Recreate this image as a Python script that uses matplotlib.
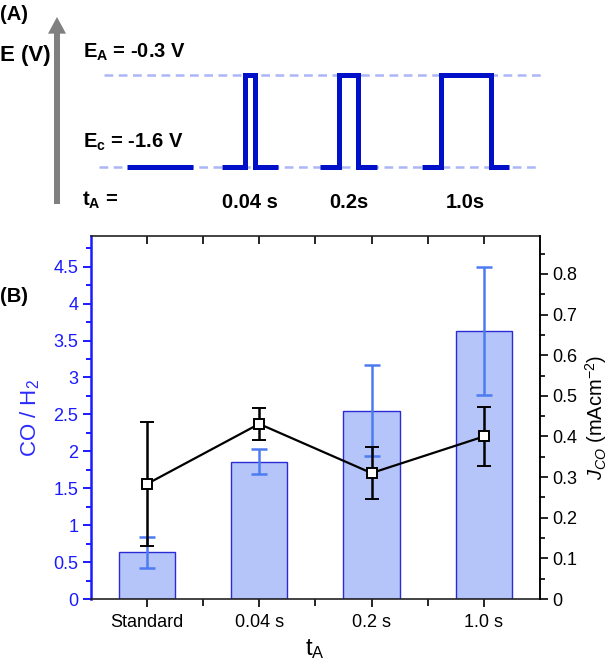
#!/usr/bin/env python3
""" Pulsed electrolysis: waveform scheme and CO/H2 selectivity """
import numpy as np
import matplotlib.pyplot as plt

plt.rcParams['font.family'] = ['Liberation Sans', 'DejaVu Sans']
plt.rcParams['mathtext.fontset'] = 'custom'
plt.rcParams['mathtext.rm'] = 'Liberation Sans'
plt.rcParams['mathtext.it'] = 'Liberation Sans:italic'
plt.rcParams['mathtext.bf'] = 'Liberation Sans:bold'

# panel B data
categories = ['Standard', '0.04 s', '0.2 s', '1.0 s']
co_h2 = [0.63, 1.86, 2.55, 3.63]
co_h2_err = [0.21, 0.17, 0.62, 0.87]
j_co = [0.283, 0.431, 0.310, 0.400]
j_co_err = [0.153, 0.039, 0.063, 0.073]

# panel A scheme: potentials (V) and schematic time positions
E_A = -0.3
E_C = -1.6
standard_t = [127, 193]
pulse_004_t = [222, 245, 245, 255, 255, 278]
pulse_02_t = [320, 339, 339, 358, 358, 377]
pulse_10_t = [422, 441, 441, 491, 491, 509]
pulse_E = [E_C, E_C, E_A, E_A, E_C, E_C]
pulse_labels = ['0.04 s', '0.2s', '1.0s']

W, H = 612, 664
BLUE = '#1a1aff'


def px(x, y):
    """ pixel position (from top-left) to figure fraction """
    return x / W, 1 - y / H


fig = plt.figure(figsize=(W / 100, H / 100), dpi=100)

# ---- panel A ----
ax_a = fig.add_axes([0, 1 - 220 / H, 1, 220 / H])
ax_a.set_xlim(0, W)
ax_a.set_ylim(-2.349, 0.760)
ax_a.axis('off')

ax_a.hlines(E_A, 104, 545, colors='#aab6f8', linestyles=(0, (3.5, 2.2)), lw=1.8)
ax_a.hlines(E_C, 99, 539, colors='#aab6f8', linestyles=(0, (3.5, 2.2)), lw=1.8)
wave_kw = dict(color='#0010c8', lw=3.6, solid_joinstyle='miter',
               solid_capstyle='butt')
ax_a.plot(standard_t, [E_C, E_C], **wave_kw)
for t in (pulse_004_t, pulse_02_t, pulse_10_t):
    ax_a.plot(t, pulse_E, **wave_kw)

ax_a.annotate('', xy=px(57, 17), xytext=px(57, 204),
              xycoords='figure fraction', textcoords='figure fraction',
              arrowprops=dict(facecolor='#808080', edgecolor='none',
                              width=4.3, headwidth=13, headlength=12,
                              shrink=0))

fig.text(*px(0, 14), '(A)', fontsize=14.5, fontweight='bold', va='center')
fig.text(*px(0, 55), 'E (V)', fontsize=16, fontweight='bold', va='center')
fig.text(*px(83, 52), r'E$_\mathbf{A}$ = -0.3 V', fontsize=14.5,
         fontweight='bold', va='center')
fig.text(*px(83, 142), r'E$_\mathbf{c}$ = -1.6 V', fontsize=14.5,
         fontweight='bold', va='center')
fig.text(*px(82, 200), r't$_\mathbf{A}$ =', fontsize=14.5,
         fontweight='bold', va='center')
for t, lab in zip((pulse_004_t, pulse_02_t, pulse_10_t), pulse_labels):
    xc = (t[0] + t[-1]) / 2
    fig.text(*px(xc, 203), lab, fontsize=14.5, fontweight='bold',
             ha='center', va='center')

# ---- panel B ----
x = np.arange(len(categories))
ax = fig.add_axes([90.7 / W, 65 / H, (540 - 90.7) / W, (599 - 236) / H])
ax.bar(x, co_h2, width=0.5, color='#b5c5f9', edgecolor='#2a2ad6', lw=1,
       zorder=2)
ax.errorbar(x, co_h2, yerr=co_h2_err, fmt='none', ecolor='#4d7bf2',
            elinewidth=1.8, capsize=5.5, capthick=1.8, zorder=3)
ax.set_xlim(-0.5, 3.5)
ax.set_ylim(0, 4.916)
ax.set_xticks(x)
ax.set_xticklabels(categories)
ax.set_xticks([0.5, 1.5, 2.5], minor=True)
ax.set_yticks(np.arange(0, 4.6, 0.5))
ax.set_yticklabels(['0', '0.5', '1', '1.5', '2', '2.5', '3', '3.5', '4', '4.5'])
ax.set_yticks(np.arange(0.25, 4.9, 0.5), minor=True)
ax.tick_params(axis='x', which='both', labelsize=13, pad=5, width=1.2)
ax.tick_params(axis='x', which='major', length=6)
ax.tick_params(axis='x', which='minor', length=5)
ax.tick_params(axis='y', which='both', colors=BLUE, labelsize=13, width=1.4,
               pad=3)
ax.tick_params(axis='y', which='major', length=6)
ax.tick_params(axis='y', which='minor', length=3.5)
ax.spines['left'].set_color(BLUE)
ax.spines['left'].set_linewidth(1.8)
for s in ('top', 'bottom', 'right'):
    ax.spines[s].set_linewidth(1.2)
    ax.spines[s].set_color('#222222')
ax.set_ylabel(r'CO / H$_2$', color='#2a2aff', fontsize=16, labelpad=8)
ax.set_xlabel(r't$_\mathrm{A}$', fontsize=17, labelpad=4)

# inward ticks along the top edge
top = ax.secondary_xaxis('top')
top.set_xticks(x)
top.set_xticks([0.5, 1.5, 2.5], minor=True)
top.tick_params(axis='x', which='both', direction='in', length=6, width=1.2,
                labeltop=False)
top.spines['top'].set_visible(False)

ax2 = ax.twinx()
ax2.errorbar(x, j_co, yerr=j_co_err, fmt='-s', color='black', lw=1.6,
             elinewidth=1.8, capsize=5, capthick=1.8, markersize=6.5,
             markerfacecolor='white', markeredgecolor='black',
             markeredgewidth=1.4)
ax2.set_ylim(0, 0.8935)
ax2.set_yticks(np.arange(0, 0.81, 0.1))
ax2.set_yticklabels(['0', '0.1', '0.2', '0.3', '0.4', '0.5', '0.6', '0.7',
                     '0.8'])
ax2.set_yticks(np.arange(0.05, 0.89, 0.1), minor=True)
ax2.tick_params(axis='y', which='both', labelsize=13, width=1.2, pad=3)
ax2.tick_params(axis='y', which='major', length=6)
ax2.tick_params(axis='y', which='minor', length=3.5)
ax2.spines['right'].set_linewidth(1.2)
ax2.spines['left'].set_visible(False)
ax2.spines['top'].set_visible(False)
ax2.spines['bottom'].set_visible(False)
ax2.set_ylabel(r'$J_{CO}$ (mAcm$^{-2}$)', fontsize=14.5, labelpad=4)

fig.text(*px(0, 296), '(B)', fontsize=14.5, fontweight='bold', va='center')

fig.savefig('out.png', dpi=100)
